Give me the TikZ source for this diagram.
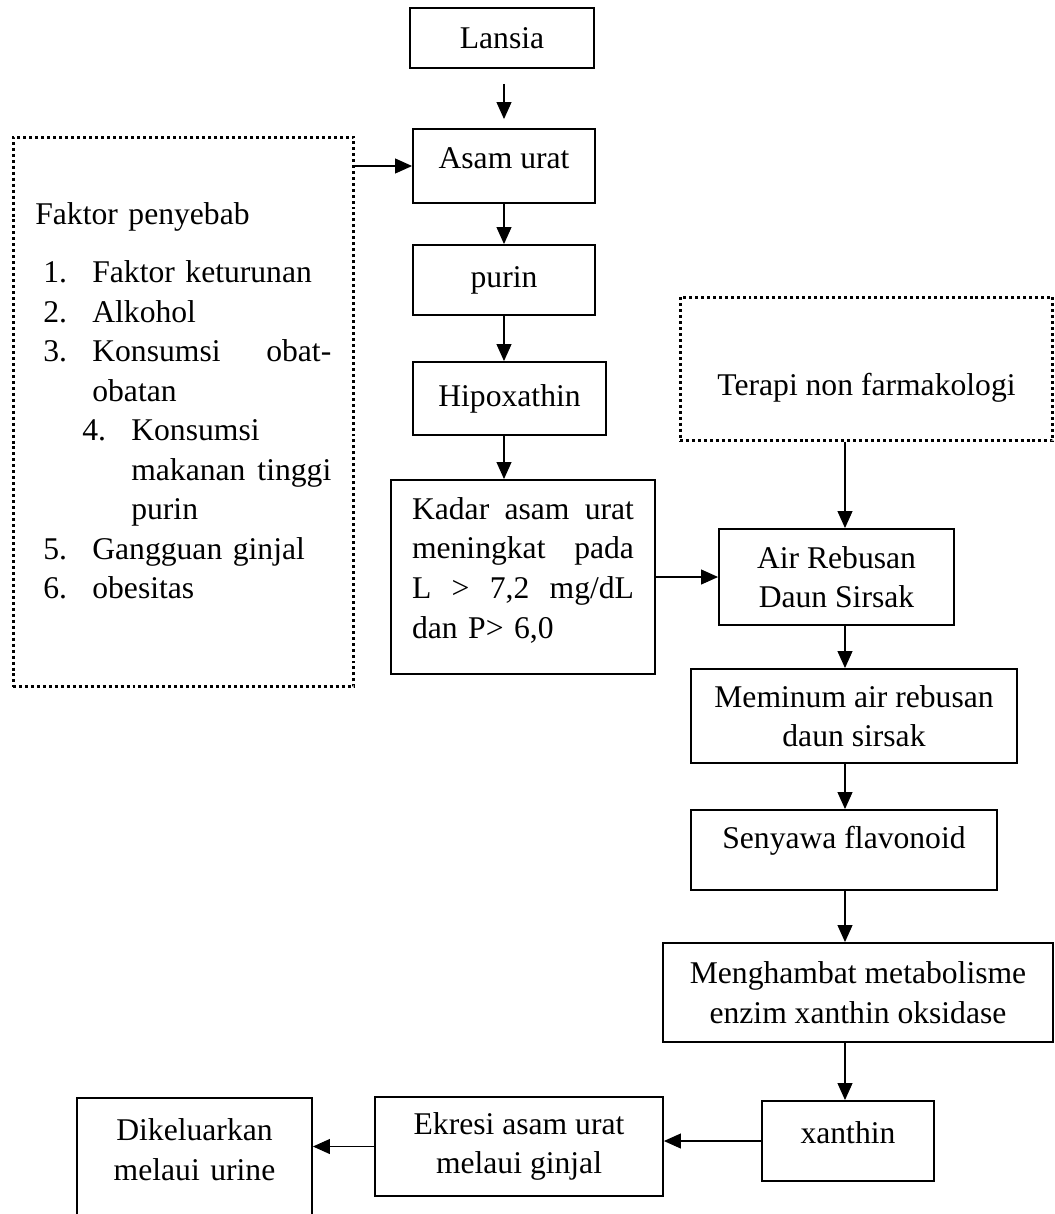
\documentclass[tikz,border=0pt]{standalone}
\usepackage{fontspec}
\setmainfont{Liberation Serif}
\usetikzlibrary{arrows.meta}

\begin{document}
\begin{tikzpicture}[x=0.02cm,y=-0.02cm,
    every node/.style={font=\fontsize{18}{22.5}\selectfont},
    box/.style={draw,line width=1.1pt,inner sep=0pt,align=center},
    dotbox/.style={draw,line width=1.7pt,dash pattern=on 1.7pt off 1.7pt,inner sep=0pt},
    arr/.style={-{Triangle[width=0.3cm,length=0.34cm]},line width=0.6pt}]
    \useasboundingbox (0,0) rectangle (1055,1214);
    \coordinate (lcol) at (504,0);
    \coordinate (rcol) at (845,0);
    % left column
    \node[box,minimum width=3.68cm,minimum height=1.2cm] (lansia) at (502,38) {Lansia};
    \node[box,minimum width=3.64cm,minimum height=1.48cm,text depth=0.32cm] (asam) at (504,166) {Asam urat};
    \node[box,minimum width=3.64cm,minimum height=1.4cm] (purin) at (504,280) {purin};
    \node[box,minimum width=3.86cm,minimum height=1.46cm] (hipo) at (509.5,398.5) {Hipoxathin};
    \node[box,anchor=north,align=left,text width=4.44cm,inner xsep=0.42cm,inner ysep=0.35cm,text depth=2.75cm] (kadar) at (523,479)
    {Kadar\hfill asam\hfill urat\\
     meningkat\hfill pada\\
     L\hfill >\hfill 7,2\hfill mg/dL\\
     dan P> 6,0};
    % faktor penyebab
    \node[dotbox,minimum width=6.82cm,minimum height=11cm] (faktor) at (183.5,412) {};
    \node[anchor=north west,align=left,text width=5.92cm,inner sep=0pt] (faktorlist) at (35,202.4)
    {Faktor penyebab\\[0.37cm]
     \hspace*{0.16cm}\makebox[0.98cm][l]{1.}Faktor keturunan\\
     \hspace*{0.16cm}\makebox[0.98cm][l]{2.}Alkohol\\
     \hspace*{0.16cm}\makebox[0.98cm][l]{3.}Konsumsi\hfill obat-\\
     \hspace*{1.14cm}obatan\\
     \hspace*{0.94cm}\makebox[0.98cm][l]{4.}Konsumsi\\
     \hspace*{1.92cm}makanan\hfill tinggi\\
     \hspace*{1.92cm}purin\\
     \hspace*{0.16cm}\makebox[0.98cm][l]{5.}Gangguan ginjal\\
     \hspace*{0.16cm}\makebox[0.98cm][l]{6.}obesitas};
    % right column
    \node[dotbox,minimum width=7.46cm,minimum height=2.88cm,text height=1.19cm] (terapi) at (866.5,369) {Terapi non farmakologi};
    \node[box,minimum width=4.7cm,minimum height=1.92cm] (air) at (836.5,577) {Air Rebusan\\Daun Sirsak};
    \node[box,minimum width=6.52cm,minimum height=1.88cm] (meminum) at (854,716) {Meminum air rebusan\\daun sirsak};
    \node[box,minimum width=6.12cm,minimum height=1.6cm,text depth=0.5cm] (senyawa) at (844,850) {Senyawa flavonoid};
    \node[box,minimum width=7.8cm,minimum height=1.98cm] (mengh) at (858,992.5) {Menghambat metabolisme\\enzim xanthin oksidase};
    \node[box,minimum width=3.44cm,minimum height=1.6cm,text depth=0.32cm] (xanthin) at (848,1141) {xanthin};
    % bottom row
    \node[box,minimum width=5.76cm,minimum height=1.98cm] (ekresi) at (519,1146.5) {Ekresi asam urat\\melaui ginjal};
    \node[box,anchor=north,text width=4.7cm,inner ysep=0.42cm,text depth=1.6cm] (dikel) at (194.5,1097) {Dikeluarkan\\melaui urine};
    % arrows
    \draw[arr,shorten <=0.3cm,shorten >=0.18cm] (lansia.south -| lcol) -- (asam.north -| lcol);
    \draw[arr] (asam.south -| lcol) -- (purin.north -| lcol);
    \draw[arr] (purin.south -| lcol) -- (hipo.north -| lcol);
    \draw[arr] (hipo.south -| lcol) -- (kadar.north -| lcol);
    \draw[arr] (faktor.east |- asam.west) -- (asam.west);
    \draw[arr] (kadar.east |- air.west) -- (air.west);
    \draw[arr] (terapi.south -| rcol) -- (air.north -| rcol);
    \draw[arr] (air.south -| rcol) -- (meminum.north -| rcol);
    \draw[arr] (meminum.south -| rcol) -- (senyawa.north -| rcol);
    \draw[arr] (senyawa.south -| rcol) -- (mengh.north -| rcol);
    \draw[arr] (mengh.south -| rcol) -- (xanthin.north -| rcol);
    \draw[arr] (xanthin.west) -- (xanthin.west -| ekresi.east);
    \draw[arr] (ekresi.west) -- (ekresi.west -| dikel.east);
\end{tikzpicture}
\end{document}
